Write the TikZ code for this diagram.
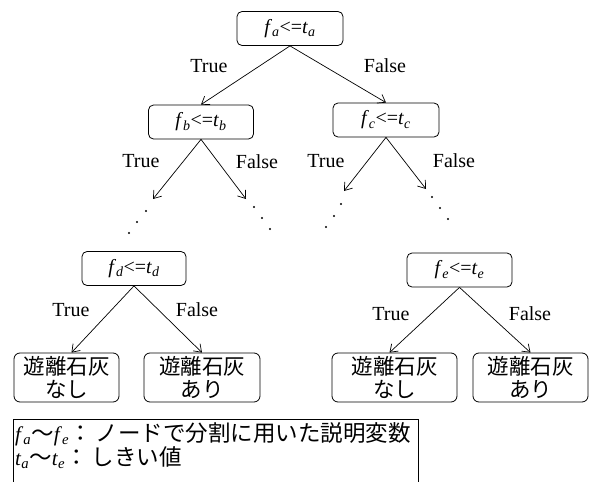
\documentclass[tikz,border=0pt]{standalone}
\usepackage{fontspec}
\setmainfont{Liberation Serif}
\newfontfamily\cjk{Noto Sans CJK JP}
\usetikzlibrary{arrows.meta}
\newcommand\condtxt[1]{\textit{f}\textsubscript{\textit{#1}}<=\textit{t}\textsubscript{\textit{#1}}}
\begin{document}
\begin{tikzpicture}[x=1pt,y=-1pt,
  cond/.style={draw, rounded corners=5pt, line width=0.8pt, minimum height=34pt, inner sep=0pt, font=\fontsize{20}{24}\selectfont},
  leaf/.style={draw, rounded corners=6pt, line width=0.8pt, minimum height=49pt, inner sep=0pt, align=center, font=\cjk\fontsize{21.5}{22.5}\selectfont},
  lab/.style={anchor=base, inner sep=0pt, font=\fontsize{20}{24}\selectfont},
  edge/.style={line width=0.7pt, -{Straight Barb[length=7pt,width=10pt]}},
  dotmark/.style={fill=black},
  legtext/.style={anchor=base west, inner sep=0pt, font=\fontsize{21}{24}\selectfont}]
\useasboundingbox (0,0) rectangle (590,482);
% condition nodes
\node[cond, minimum width=106pt] (a) at (290,28.5) {\condtxt{a}};
\node[cond, minimum width=105pt] (b) at (201,122) {\condtxt{b}};
\node[cond, minimum width=106pt] (c) at (386,120) {\condtxt{c}};
\node[cond, minimum width=104pt] (d) at (134,268.5) {\condtxt{d}};
\node[cond, minimum width=105pt] (e) at (459.5,270) {\condtxt{e}};
% leaves
\node[leaf, minimum width=105pt] (ld1) at (66.5,377.5) {遊離石灰\\なし};
\node[leaf, minimum width=116pt] (ld2) at (202,377.5) {遊離石灰\\あり};
\node[leaf, minimum width=125pt] (le1) at (394.5,377.5) {遊離石灰\\なし};
\node[leaf, minimum width=115pt] (le2) at (530.5,377.5) {遊離石灰\\あり};
% free ends
\coordinate (bl) at (153,199);
\coordinate (br) at (246,199);
\coordinate (cl) at (344,191);
\coordinate (cr) at (426,189);
% edges
\draw[edge] (a.south) -- (b.north);
\draw[edge] (a.south) -- (c.north);
\draw[edge] (b.south) -- (bl);
\draw[edge] (b.south) -- (br);
\draw[edge] (c.south) -- (cl);
\draw[edge] (c.south) -- (cr);
\draw[edge] (d.south) -- ([xshift=5pt]ld1.north);
\draw[edge] (d.south) -- (ld2.north);
\draw[edge] (e.south) -- ([xshift=-5pt]le1.north);
\draw[edge] (e.south) -- (le2.north);
% labels
\node[lab] (la1) at (209,72) {True};
\node[lab] (la2) at (385,72) {False};
\node[lab] (lb1) at (141,167) {True};
\node[lab] (lb2) at (257,168) {False};
\node[lab] (lc1) at (326,167) {True};
\node[lab] (lc2) at (454,167) {False};
\node[lab] (ld1l) at (71,316) {True};
\node[lab] (ld2l) at (197,316) {False};
\node[lab] (le1l) at (391,320) {True};
\node[lab] (le2l) at (530,320) {False};
% dots
\foreach \p in {(146,211),(137,222),(129,233),(254,207),(262,218),(270,229),(341,204),(334,216),(326,227),(432,197),(440,208),(448,219)}
  \fill[dotmark] \p circle (1.1pt);
% legend
\draw[line width=0.8pt] (13,482) -- (13,419) -- (418,419) -- (418,482);
\node[legtext] (leg1) at (15,441) {\textit{f}\textsubscript{\textit{a}}{\cjk\fontsize{22.5}{24}\selectfont 〜}\textit{f}\textsubscript{\textit{e}}{\cjk\fontsize{22.5}{24}\selectfont ：}\hspace{4pt}{\cjk\fontsize{22.5}{24}\selectfont ノードで分割に用いた説明変数}};
\node[legtext] (leg2) at (15,465) {\textit{t}\textsubscript{\textit{a}}{\cjk\fontsize{22.5}{24}\selectfont 〜}\textit{t}\textsubscript{\textit{e}}{\cjk\fontsize{22.5}{24}\selectfont ：}\hspace{4pt}{\cjk\fontsize{22.5}{24}\selectfont しきい値}};
\end{tikzpicture}
\end{document}
